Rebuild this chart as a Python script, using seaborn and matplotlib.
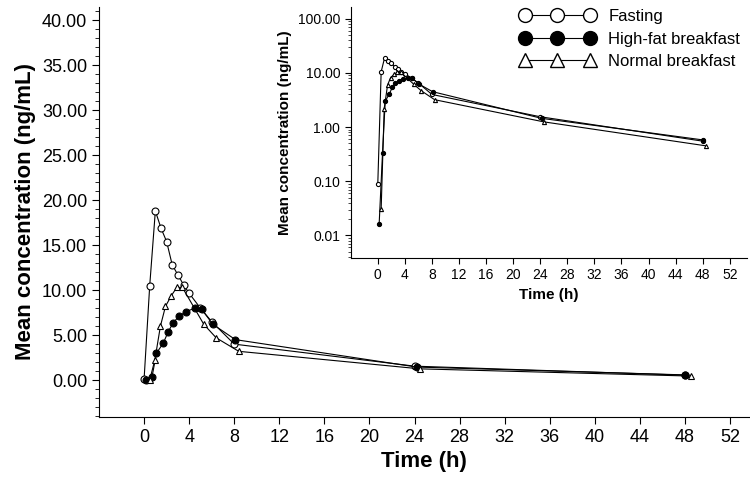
import matplotlib
matplotlib.use("Agg")
import matplotlib.pyplot as plt
from matplotlib.lines import Line2D
from matplotlib.ticker import MultipleLocator, FixedLocator, FormatStrFormatter, LogLocator, NullFormatter
import pandas as pd
import seaborn as sns

# mean concentration-time profiles
fasting_t = [0, 0.5, 1, 1.5, 2, 2.5, 3, 3.5, 4, 5, 6, 8, 24, 48]
fasting_c = [0.088, 10.5, 18.8, 16.9, 15.4, 12.8, 11.7, 10.6, 9.65, 8.0, 6.5, 4.0, 1.55, 0.55]

highfat_t = [0.2, 0.7, 1.1, 1.7, 2.15, 2.6, 3.1, 3.7, 4.5, 5.1, 6.1, 8.1, 24.2, 48]
highfat_c = [0.016, 0.33, 3.0, 4.1, 5.4, 6.4, 7.1, 7.6, 8.0, 7.9, 6.2, 4.5, 1.45, 0.58]

normal_t = [0.5, 0.95, 1.45, 1.9, 2.4, 2.9, 3.4, 5.3, 6.4, 8.4, 24.5, 48.5]
normal_c = [0.031, 2.2, 6.0, 8.2, 9.35, 10.3, 10.3, 6.2, 4.7, 3.2, 1.25, 0.45]

groups = ["Fasting", "High-fat breakfast", "Normal breakfast"]
x_ticks = list(range(0, 53, 4))
y_ticks = [0, 5, 10, 15, 20, 25, 30, 35, 40]
log_ticks = [0.01, 0.1, 1, 10, 100]

df = pd.concat([
    pd.DataFrame({"time": fasting_t, "conc": fasting_c, "group": groups[0]}),
    pd.DataFrame({"time": highfat_t, "conc": highfat_c, "group": groups[1]}),
    pd.DataFrame({"time": normal_t, "conc": normal_c, "group": groups[2]}),
])

styles = {
    "Fasting": dict(marker="o", markerfacecolor="white"),
    "High-fat breakfast": dict(marker="o", markerfacecolor="black"),
    "Normal breakfast": dict(marker="^", markerfacecolor="white"),
}

sns.set_style("ticks", rc={"axes.edgecolor": "black", "xtick.color": "black",
                           "ytick.color": "black", "text.color": "black",
                           "axes.labelcolor": "black"})
plt.rcParams["font.family"] = ["Liberation Sans", "DejaVu Sans"]

fig = plt.figure(figsize=(7.5, 4.86), dpi=100)
ax = fig.add_axes([0.132, 0.142, 0.867, 0.844])
ax_in = fig.add_axes([0.4676, 0.470, 0.528, 0.516])

for g in groups:
    sub = df[df["group"] == g]
    for a, ms in [(ax, 5.0), (ax_in, 3.0)]:
        sns.lineplot(data=sub, x="time", y="conc", ax=a, color="black", linewidth=0.8,
                     markeredgecolor="black", markeredgewidth=0.8, markersize=ms,
                     estimator=None, sort=False, legend=False, **styles[g])

# main axes
ax.set_xlim(-4, 53.7)
ax.set_ylim(-4.1, 41.5)
ax.set_xticks(x_ticks)
ax.set_yticks(y_ticks)
ax.yaxis.set_minor_locator(MultipleLocator(1))
ax.yaxis.set_major_formatter(FormatStrFormatter("%.2f"))
ax.tick_params(axis="both", which="major", labelsize=13, length=5, width=0.8, direction="out")
ax.tick_params(axis="y", which="minor", length=3, width=0.6)
ax.set_xlabel("Time (h)", fontsize=16, fontweight="bold")
ax.set_ylabel("Mean concentration (ng/mL)", fontsize=16, fontweight="bold")
sns.despine(ax=ax)

# inset (log scale)
ax_in.set_yscale("log")
ax_in.set_xlim(-4, 54.5)
ax_in.set_ylim(0.0039, 166)
ax_in.set_xticks(x_ticks)
ax_in.yaxis.set_major_locator(FixedLocator(log_ticks))
ax_in.yaxis.set_minor_locator(LogLocator(base=10, subs=range(2, 10)))
ax_in.yaxis.set_minor_formatter(NullFormatter())
ax_in.yaxis.set_major_formatter(FormatStrFormatter("%.2f"))
ax_in.tick_params(axis="both", which="major", labelsize=10, length=4, width=0.8)
ax_in.tick_params(axis="y", which="minor", length=2, width=0.5)
ax_in.set_xlabel("Time (h)", fontsize=11, fontweight="bold")
ax_in.set_ylabel("Mean concentration (ng/mL)", fontsize=11, fontweight="bold")
ax_in.patch.set_alpha(0)
sns.despine(ax=ax_in)

handles = [Line2D([0], [0], color="black", linewidth=0.8, markeredgecolor="black",
                  markersize=10, **styles[g]) for g in groups]
fig.legend(handles, groups, loc="upper left", bbox_to_anchor=(0.682, 0.998),
           frameon=False, fontsize=12, numpoints=3, handlelength=4.5,
           handletextpad=0.8, labelspacing=0.45, borderpad=0)

fig.savefig("out.png", dpi=100)
